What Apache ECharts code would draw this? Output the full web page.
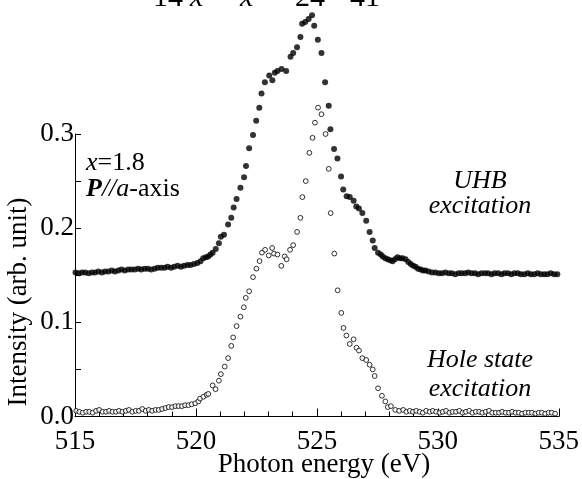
<!DOCTYPE html>
<html>
<head>
<meta charset="utf-8">
<script src="https://cdn.jsdelivr.net/npm/echarts@6/dist/echarts.min.js"></script>
<style>
html,body{margin:0;padding:0;background:#fff;}
#chart{width:582px;height:479px;}
</style>
</head>
<body>
<div id="chart"></div>
<script>
// x axis ticks / labels
const xTickLabels = [515, 520, 525, 530, 535];
const yTickLabels = ['0.0', '0.1', '0.2', '0.3'];

// UHB excitation (filled circles)
const uhbEnergy = [
515.02,515.15,515.29,515.42,515.56,515.70,515.83,515.97,516.11,516.24,
516.38,516.52,516.65,516.79,516.92,517.06,517.20,517.33,517.47,517.61,
517.74,517.88,518.01,518.15,518.29,518.42,518.56,518.70,518.83,518.97,
519.10,519.24,519.38,519.51,519.65,519.78,519.92,520.06,520.19,520.30,
520.41,520.51,520.60,520.69,520.82,520.95,521.03,521.16,521.33,521.46,
521.56,521.68,521.84,521.99,522.07,522.20,522.36,522.49,522.62,522.71,
522.85,523.03,523.16,523.26,523.37,523.54,523.73,523.91,524.02,524.18,
524.32,524.39,524.52,524.66,524.80,524.89,525.04,525.19,525.34,525.49,
525.56,525.71,525.85,526.00,526.09,526.23,526.36,526.52,526.63,526.74,
526.88,527.04,527.18,527.31,527.39,527.53,527.64,527.72,527.83,527.93,
528.03,528.13,528.23,528.33,528.44,528.54,528.67,528.78,528.88,528.98,
529.08,529.18,529.29,529.39,529.49,529.62,529.76,529.90,530.04,530.17,
530.31,530.45,530.58,530.72,530.86,530.99,531.13,531.26,531.40,531.54,
531.67,531.81,531.95,532.08,532.22,532.35,532.49,532.63,532.76,532.90,
533.04,533.17,533.31,533.44,533.58,533.72,533.85,533.99,534.13,534.26,
534.40,534.53,534.67,534.81,534.94
];
const uhbIntensity = [
0.153,0.152,0.153,0.153,0.152,0.153,0.153,0.154,0.153,0.154,
0.154,0.155,0.154,0.155,0.156,0.155,0.156,0.156,0.156,0.157,
0.156,0.157,0.157,0.156,0.157,0.158,0.158,0.158,0.159,0.158,
0.159,0.160,0.159,0.160,0.161,0.161,0.162,0.163,0.165,0.168,
0.169,0.170,0.172,0.174,0.178,0.184,0.191,0.193,0.204,0.211,
0.222,0.231,0.243,0.254,0.266,0.285,0.299,0.314,0.328,0.343,
0.355,0.362,0.357,0.365,0.367,0.369,0.367,0.382,0.386,0.392,
0.403,0.417,0.419,0.422,0.426,0.415,0.400,0.386,0.355,0.330,
0.305,0.284,0.274,0.255,0.241,0.234,0.233,0.229,0.223,0.221,
0.216,0.208,0.196,0.187,0.179,0.174,0.172,0.170,0.168,0.167,
0.166,0.165,0.167,0.169,0.168,0.168,0.167,0.164,0.162,0.160,
0.159,0.157,0.156,0.155,0.155,0.154,0.153,0.153,0.152,0.152,
0.153,0.152,0.152,0.151,0.152,0.152,0.152,0.153,0.152,0.152,
0.151,0.152,0.152,0.152,0.151,0.152,0.152,0.151,0.152,0.152,
0.151,0.152,0.152,0.151,0.151,0.152,0.151,0.151,0.152,0.151,
0.151,0.151,0.152,0.151,0.151
];

// Hole state excitation (open circles)
const holeEnergy = [
515.05,515.18,515.32,515.46,515.59,515.73,515.87,516.00,516.14,516.28,
516.41,516.55,516.69,516.82,516.96,517.10,517.23,517.37,517.51,517.64,
517.78,517.92,518.05,518.19,518.33,518.46,518.60,518.74,518.87,519.01,
519.15,519.28,519.42,519.55,519.69,519.82,519.97,520.10,520.17,520.31,
520.44,520.51,520.69,520.81,520.95,521.03,521.19,521.33,521.46,521.54,
521.68,521.84,521.98,522.06,522.20,522.36,522.50,522.63,522.73,522.86,
523.01,523.15,523.23,523.37,523.53,523.67,523.75,523.89,524.02,524.18,
524.32,524.40,524.54,524.69,524.82,524.92,525.05,525.19,525.36,525.49,
525.57,525.72,525.86,526.01,526.10,526.22,526.36,526.52,526.64,526.74,
526.88,527.04,527.18,527.31,527.39,527.53,527.69,527.83,527.93,528.06,
528.24,528.40,528.57,528.70,528.84,528.97,529.11,529.25,529.38,529.52,
529.66,529.79,529.93,530.07,530.20,530.34,530.48,530.61,530.75,530.89,
531.02,531.16,531.30,531.43,531.57,531.71,531.84,531.98,532.12,532.25,
532.39,532.53,532.66,532.80,532.94,533.07,533.21,533.35,533.48,533.62,
533.76,533.89,534.03,534.17,534.30,534.44,534.58,534.71,534.85
];
const holeIntensity = [
0.006,0.005,0.004,0.005,0.005,0.004,0.006,0.007,0.005,0.005,
0.006,0.005,0.005,0.006,0.005,0.006,0.007,0.005,0.006,0.006,
0.008,0.006,0.007,0.006,0.007,0.007,0.008,0.009,0.010,0.010,
0.011,0.011,0.011,0.012,0.012,0.013,0.014,0.016,0.019,0.021,
0.023,0.024,0.033,0.029,0.038,0.045,0.053,0.062,0.075,0.084,
0.096,0.106,0.116,0.126,0.133,0.148,0.157,0.165,0.174,0.177,
0.171,0.179,0.173,0.172,0.160,0.170,0.167,0.177,0.182,0.196,
0.211,0.233,0.250,0.280,0.296,0.312,0.328,0.321,0.300,0.263,
0.216,0.173,0.134,0.110,0.094,0.086,0.077,0.082,0.073,0.070,
0.062,0.060,0.055,0.050,0.043,0.030,0.022,0.016,0.010,0.011,
0.007,0.006,0.007,0.005,0.006,0.005,0.006,0.005,0.004,0.006,
0.005,0.006,0.005,0.004,0.005,0.006,0.004,0.005,0.005,0.006,
0.004,0.005,0.006,0.004,0.005,0.005,0.004,0.005,0.006,0.004,
0.004,0.004,0.005,0.004,0.004,0.005,0.004,0.004,0.003,0.004,
0.004,0.004,0.003,0.004,0.004,0.003,0.004,0.004,0.003
];

const FONT = "'Liberation Serif','Times New Roman',serif";

const uhbData = uhbEnergy.map((e, i) => [e, uhbIntensity[i]]);
const holeData = holeEnergy.map((e, i) => [e, holeIntensity[i]]);

const chart = echarts.init(document.getElementById('chart'), null, {renderer: 'canvas'});
chart.setOption({
  animation: false,
  backgroundColor: '#ffffff',
  grid: {left: 75, right: 17, top: 134, bottom: 62.5, containLabel: false},
  xAxis: {
    type: 'value', min: xTickLabels[0], max: xTickLabels[xTickLabels.length - 1], interval: 5,
    axisLine: {show: true, lineStyle: {color: '#000', width: 1}},
    axisTick: {show: true, inside: true, length: 8, lineStyle: {color: '#000', width: 1}},
    minorTick: {show: true, splitNumber: 5, length: 5, lineStyle: {color: '#000', width: 1}},
    splitLine: {show: false},
    axisLabel: {color: '#000', fontFamily: FONT, fontSize: 27, margin: 12,
      formatter: v => String(v)}
  },
  yAxis: {
    type: 'value', min: 0, max: 0.3, interval: 0.05,
    axisLine: {show: true, lineStyle: {color: '#000', width: 1}},
    axisTick: {show: true, inside: true, length: 6, lineStyle: {color: '#000', width: 1}},
    splitLine: {show: false},
    axisLabel: {color: '#000', fontFamily: FONT, fontSize: 27, margin: 1,
      formatter: v => {
        const k = Math.round(v * 20);
        return k % 2 === 0 ? yTickLabels[k / 2] : '';
      }}
  },
  series: [
    {
      type: 'scatter', name: 'UHB excitation', data: uhbData, clip: false,
      symbol: 'circle', symbolSize: 6,
      itemStyle: {color: '#000'}
    },
    {
      type: 'scatter', name: 'Hole state excitation', data: holeData, clip: false,
      symbol: 'circle', symbolSize: 4.8,
      itemStyle: {color: '#fff', borderColor: '#000', borderWidth: 1}
    }
  ],
  graphic: [
    {type: 'text', x: 324, y: 465, style: {text: 'Photon energy (eV)', font: '27px ' + FONT, fill: '#000', align: 'center', verticalAlign: 'middle'}},
    {type: 'text', x: 19, y: 302, rotation: Math.PI / 2, style: {text: 'Intensity (arb. unit)', font: '27px ' + FONT, fill: '#000', align: 'center', verticalAlign: 'middle'}},
    {type: 'text', x: 86, y: 163, style: {
      text: '{i|x}{r|=1.8}', verticalAlign: 'middle', align: 'left',
      rich: {i: {font: 'italic 26px ' + FONT, fill: '#000'}, r: {font: '26px ' + FONT, fill: '#000'}}}},
    {type: 'text', x: 86, y: 189, style: {
      text: '{b|P}{i|//a}{r|-axis}', verticalAlign: 'middle', align: 'left',
      rich: {b: {font: 'italic bold 26px ' + FONT, fill: '#000'}, i: {font: 'italic 26px ' + FONT, fill: '#000'}, r: {font: '26px ' + FONT, fill: '#000'}}}},
    {type: 'text', x: 480, y: 181, style: {text: 'UHB', font: 'italic 26px ' + FONT, fill: '#000', align: 'center', verticalAlign: 'middle'}},
    {type: 'text', x: 480, y: 206, style: {text: 'excitation', font: 'italic 26px ' + FONT, fill: '#000', align: 'center', verticalAlign: 'middle'}},
    {type: 'text', x: 480, y: 360, style: {text: 'Hole state', font: 'italic 26px ' + FONT, fill: '#000', align: 'center', verticalAlign: 'middle'}},
    {type: 'text', x: 480, y: 389, style: {text: 'excitation', font: 'italic 26px ' + FONT, fill: '#000', align: 'center', verticalAlign: 'middle'}},
    {type: 'text', x: 153, y: 13, style: {text: '14', font: '30px ' + FONT, fill: '#000', align: 'left', verticalAlign: 'bottom'}},
    {type: 'text', x: 190, y: 13, style: {text: 'x', font: 'italic 30px ' + FONT, fill: '#000', align: 'left', verticalAlign: 'bottom'}},
    {type: 'text', x: 240, y: 13, style: {text: 'x', font: 'italic 30px ' + FONT, fill: '#000', align: 'left', verticalAlign: 'bottom'}},
    {type: 'text', x: 295, y: 13, style: {text: '24', font: '30px ' + FONT, fill: '#000', align: 'left', verticalAlign: 'bottom'}},
    {type: 'text', x: 350, y: 13, style: {text: '41', font: '30px ' + FONT, fill: '#000', align: 'left', verticalAlign: 'bottom'}}
  ]
});
</script>
</body>
</html>
